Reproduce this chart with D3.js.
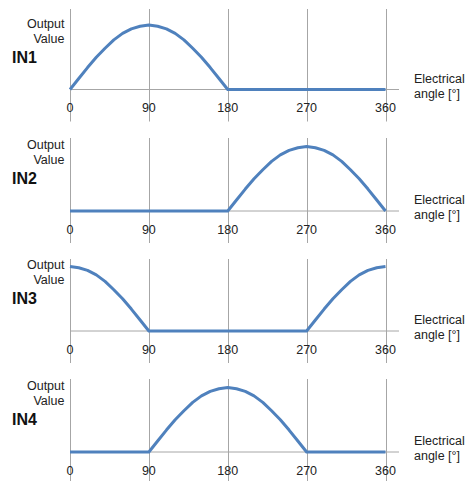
<!DOCTYPE html>
<html><head><meta charset="utf-8">
<script src="https://cdn.jsdelivr.net/npm/d3@7"></script>
<style>body{margin:0;background:#fff}svg{display:block}</style>
</head><body>
<svg id="c" width="467" height="481"></svg>
<script>
// Data
const panelNames = ["IN1", "IN2", "IN3", "IN4"];
const angles = [0,10,20,30,40,50,60,70,80,90,100,110,120,130,140,150,160,170,180,190,200,210,220,230,240,250,260,270,280,290,300,310,320,330,340,350,360];
const in1 = [0,0.17,0.34,0.5,0.64,0.77,0.87,0.94,0.98,1,0.98,0.94,0.87,0.77,0.64,0.5,0.34,0.17,0,0,0,0,0,0,0,0,0,0,0,0,0,0,0,0,0,0,0];
const in2 = [0,0,0,0,0,0,0,0,0,0,0,0,0,0,0,0,0,0,0,0.17,0.34,0.5,0.64,0.77,0.87,0.94,0.98,1,0.98,0.94,0.87,0.77,0.64,0.5,0.34,0.17,0];
const in3 = [1,0.98,0.94,0.87,0.77,0.64,0.5,0.34,0.17,0,0,0,0,0,0,0,0,0,0,0,0,0,0,0,0,0,0,0,0.17,0.34,0.5,0.64,0.77,0.87,0.94,0.98,1];
const in4 = [0,0,0,0,0,0,0,0,0,0,0.17,0.34,0.5,0.64,0.77,0.87,0.94,0.98,1,0.98,0.94,0.87,0.77,0.64,0.5,0.34,0.17,0,0,0,0,0,0,0,0,0,0];
const seriesValues = [in1, in2, in3, in4];
const tickValues = [0, 90, 180, 270, 360];
const yLabel = ["Output", "Value"];
const xLabel = ["Electrical", "angle [°]"];

// Layout
const baselines = [89.5, 211, 331, 452];
const gridTopOffsets = [80.5, 73, 72, 73];
const svg = d3.select("#c");
const font = "Arial, 'Liberation Sans', sans-serif";

const x = d3.scaleLinear().domain([0, 360]).range([70, 385.5]);

baselines.forEach((b, i) => {
  const y = d3.scaleLinear().domain([0, 1]).range([b, b - 64.5]);
  const g = svg.append("g");

  g.selectAll("line.grid").data(tickValues).join("line")
    .attr("x1", d => Math.round(x(d)) + 0.5).attr("x2", d => Math.round(x(d)) + 0.5)
    .attr("y1", b - gridTopOffsets[i]).attr("y2", b + 32)
    .attr("stroke", "#a6a6a6").attr("stroke-width", 1);

  g.append("line")
    .attr("x1", x(0)).attr("x2", 399)
    .attr("y1", y(0)).attr("y2", y(0))
    .attr("stroke", "#a6a6a6").attr("stroke-width", 1);

  g.selectAll("text.tick").data(tickValues).join("text")
    .attr("x", d => x(d)).attr("y", b + 22.5)
    .attr("text-anchor", "middle")
    .attr("font-family", font).attr("font-size", 12.5).attr("fill", "#222")
    .text(d => d);

  const line = d3.line().x(d => x(d[0])).y(d => y(d[1])).curve(d3.curveLinear);
  g.append("path")
    .datum(angles.map((a, k) => [a, seriesValues[i][k]]))
    .attr("d", line)
    .attr("fill", "none").attr("stroke", "#4f81bd")
    .attr("stroke-width", 3).attr("stroke-linejoin", "round");

  g.selectAll("text.yl").data(yLabel).join("text")
    .attr("x", 64.5).attr("y", (d, k) => b - 62 + k * 15)
    .attr("text-anchor", "end")
    .attr("font-family", font).attr("font-size", 12.5).attr("fill", "#222")
    .text(d => d);

  g.append("text")
    .attr("x", 12).attr("y", b - 27)
    .attr("font-family", font).attr("font-size", 16).attr("font-weight", "bold").attr("fill", "#111")
    .text(panelNames[i]);

  g.selectAll("text.xl").data(xLabel).join("text")
    .attr("x", 414).attr("y", (d, k) => b - 7 + k * 15)
    .attr("font-family", font).attr("font-size", 12.5).attr("fill", "#222")
    .text(d => d);
});
</script>
</body></html>
